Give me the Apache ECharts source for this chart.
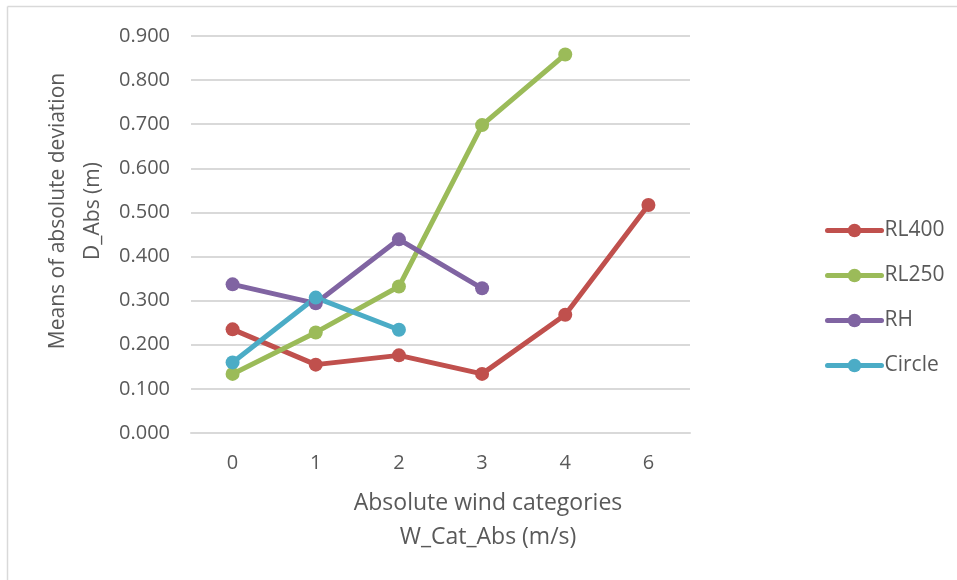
<!DOCTYPE html>
<html>
<head>
<meta charset="utf-8">
<script src="https://cdn.jsdelivr.net/npm/echarts@6/dist/echarts.min.js"></script>
<style>
  html, body { margin: 0; padding: 0; background: #ffffff; }
  #chart { width: 957px; height: 580px; }
</style>
</head>
<body>
<div id="chart"></div>
<script>
// Wind categories (m/s) and mean absolute deviation per method
var categories = ['0', '1', '2', '3', '4', '6'];
var rl400 = [0.235, 0.155, 0.176, 0.134, 0.268, 0.517];
var rl250 = [0.134, 0.228, 0.332, 0.698, 0.858, null];
var rh = [0.337, 0.294, 0.439, 0.328, null, null];
var circle = [0.160, 0.307, 0.234, null, null, null];

var seriesNames = ['RL400', 'RL250', 'RH', 'Circle'];
var seriesData = [rl400, rl250, rh, circle];
var seriesColors = ['#C0504D', '#9BBB59', '#8064A2', '#4BACC6'];

var FONT = 'Open Sans';
var TEXT = '#595959';

var chart = echarts.init(document.getElementById('chart'), null, { renderer: 'canvas' });

var series = seriesNames.map(function (name, i) {
  return {
    name: name,
    type: 'line',
    data: seriesData[i],
    symbol: 'circle',
    symbolSize: 14,
    connectNulls: false,
    lineStyle: { width: 5, color: seriesColors[i], cap: 'round', join: 'round' },
    itemStyle: { color: seriesColors[i] },
    emphasis: { disabled: true },
    animation: false
  };
});

chart.setOption({
  animation: false,
  backgroundColor: '#ffffff',
  grid: { left: 191, right: 267, top: 36, bottom: 147, containLabel: false },
  xAxis: {
    type: 'category',
    data: categories,
    boundaryGap: true,
    axisLine: { show: true, lineStyle: { color: '#D9D9D9', width: 2 } },
    axisTick: { show: false },
    axisLabel: { color: TEXT, fontFamily: FONT, fontSize: 20, margin: 20 },
    splitLine: { show: false }
  },
  yAxis: {
    type: 'value',
    min: 0,
    max: 0.9,
    interval: 0.1,
    axisLine: { show: false },
    axisTick: { show: false },
    axisLabel: {
      color: TEXT, fontFamily: FONT, fontSize: 20, margin: 21,
      formatter: function (v) { return v.toFixed(3); }
    },
    splitLine: { show: true, lineStyle: { color: '#D9D9D9', width: 2 } }
  },
  legend: {
    orient: 'vertical',
    left: 820,
    top: 215,
    itemGap: 24,
    itemWidth: 54,
    itemHeight: 17,
    data: seriesNames,
    lineStyle: { width: 5 },
    textStyle: { color: TEXT, fontFamily: FONT, fontSize: 21, padding: [0, 0, 0, -2] },
    selectedMode: false
  },
  graphic: [
    // chart frame (top and left edges)
    { type: 'line', shape: { x1: 7.5, y1: 6.5, x2: 957, y2: 6.5 }, style: { stroke: '#D9D9D9', lineWidth: 1.5 }, silent: true },
    { type: 'line', shape: { x1: 7.5, y1: 6.5, x2: 7.5, y2: 580 }, style: { stroke: '#D9D9D9', lineWidth: 1.5 }, silent: true },
    {
      type: 'text',
      x: 76, y: 211,
      rotation: Math.PI / 2,
      style: {
        text: 'Means of absolute deviation\nD_Abs (m)',
        fill: TEXT,
        font: '21px "' + FONT + '"',
        align: 'center',
        verticalAlign: 'middle',
        lineHeight: 35
      },
      silent: true
    },
    {
      type: 'text',
      x: 488, y: 520,
      style: {
        text: 'Absolute wind categories\nW_Cat_Abs (m/s)',
        fill: TEXT,
        font: '23px "' + FONT + '"',
        align: 'center',
        verticalAlign: 'middle',
        lineHeight: 34
      },
      silent: true
    }
  ],
  series: series
});
</script>
</body>
</html>
